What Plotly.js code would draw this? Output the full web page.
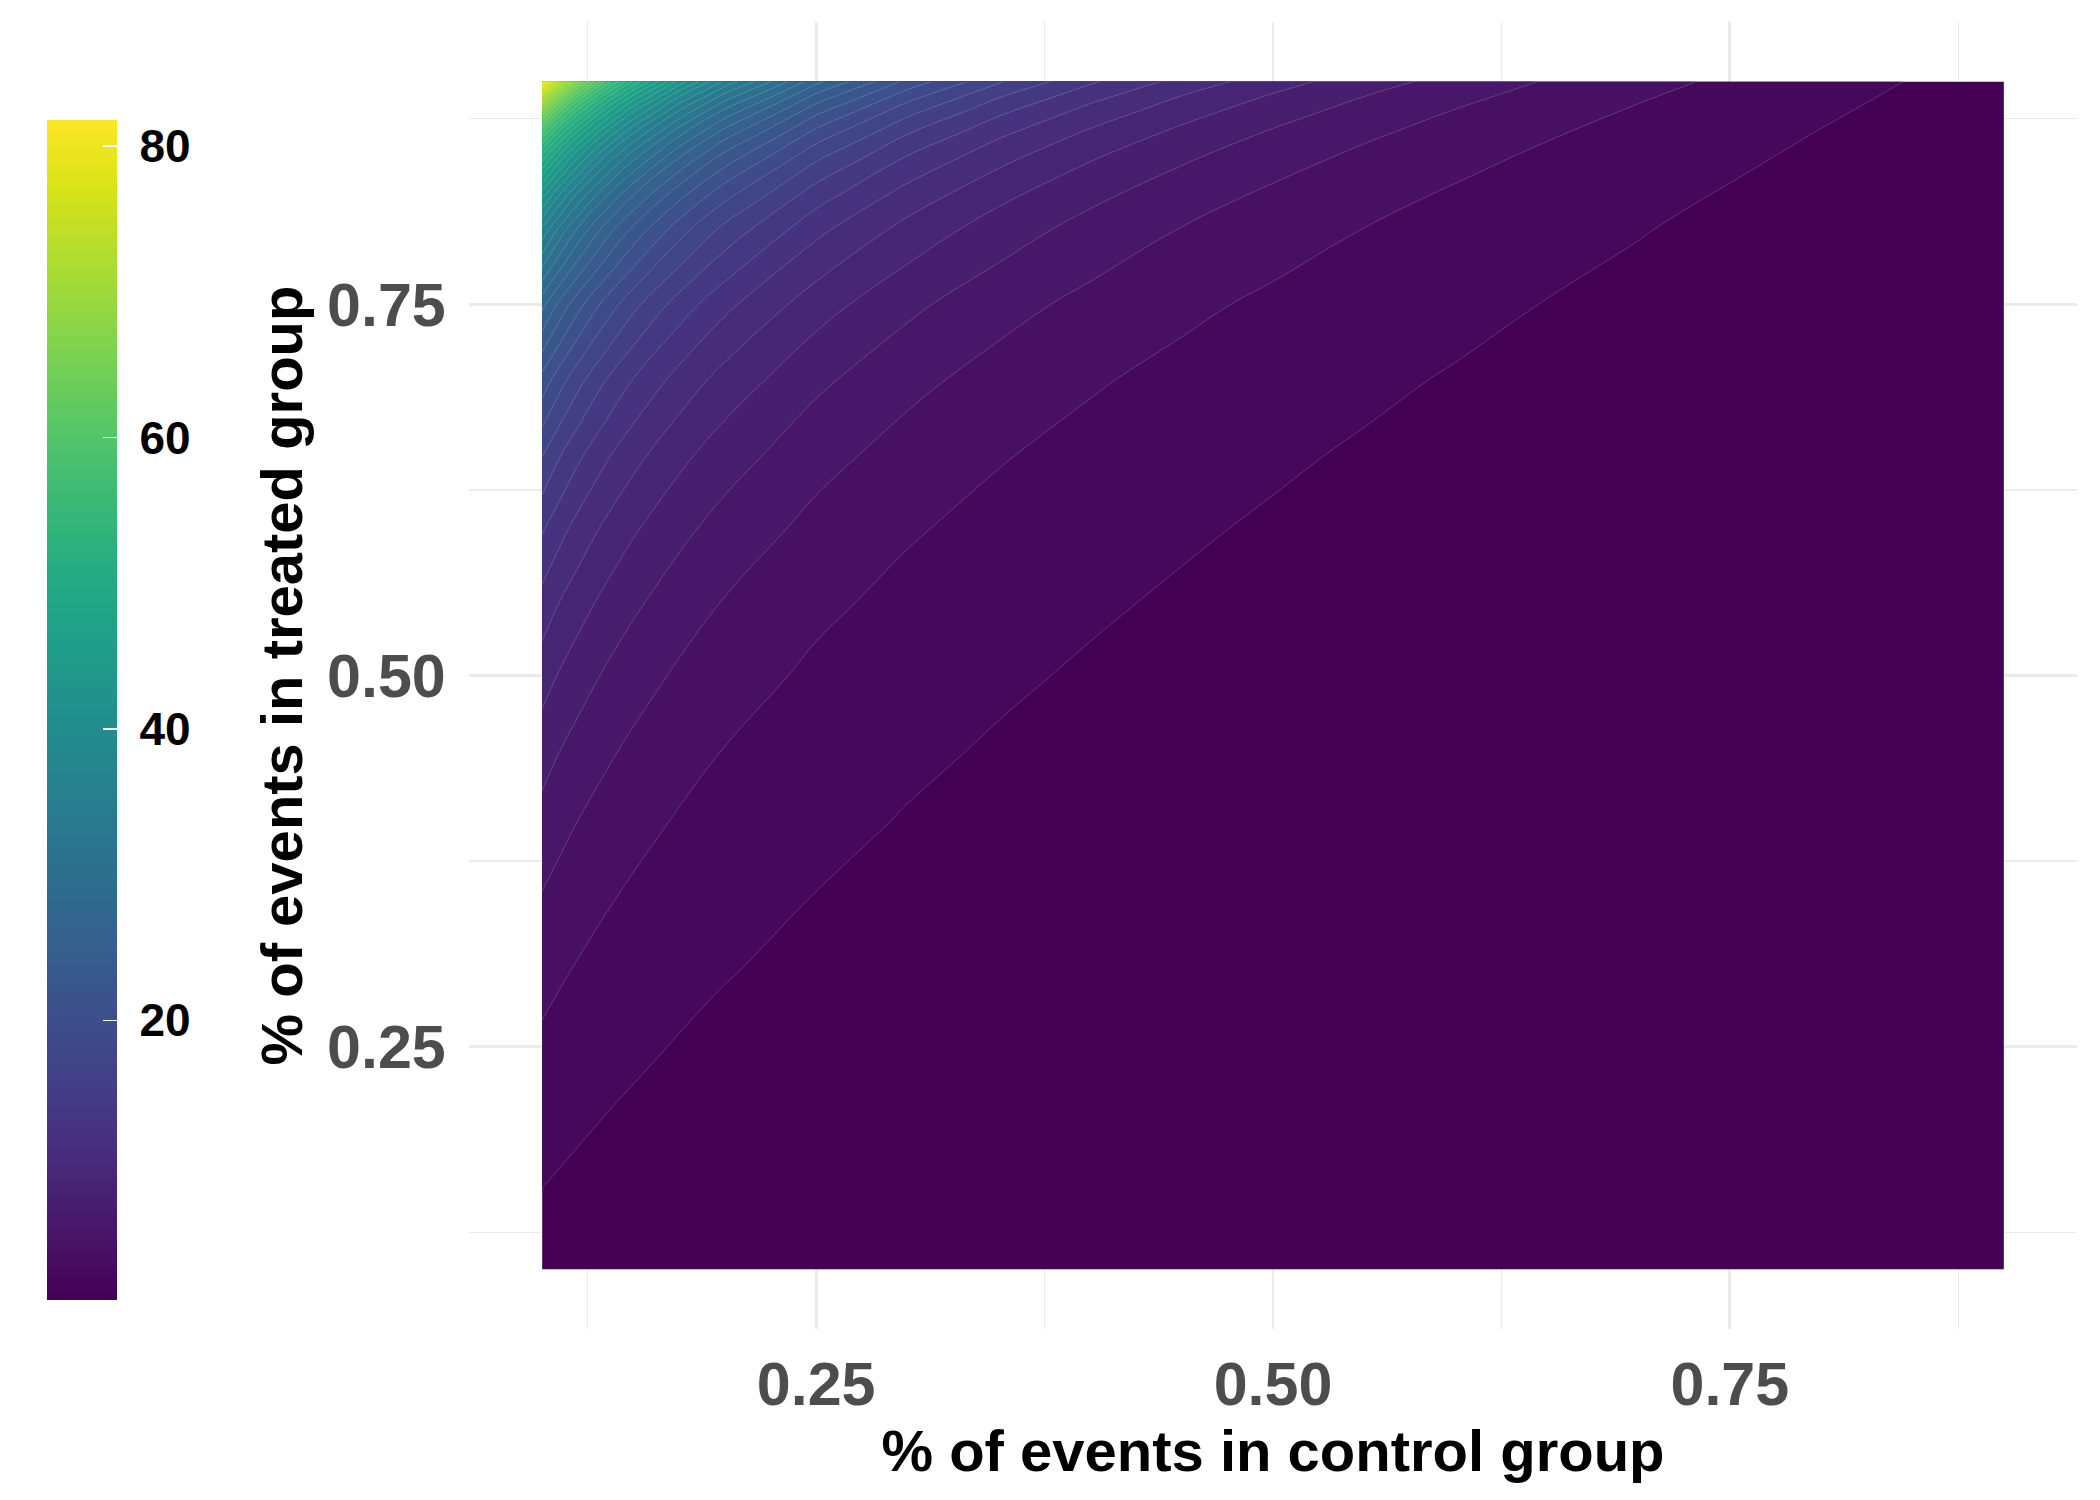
<!DOCTYPE html>
<html>
<head>
<meta charset="utf-8">
<script src="https://cdn.plot.ly/plotly-3.0.1.min.js"></script>
<style>
  html, body { margin: 0; padding: 0; background: #ffffff; }
  #chart { width: 2100px; height: 1500px; }
</style>
</head>
<body>
<div id="chart"></div>
<script>
// доля событий в контрольной группе (ось x)
const controlPct = [0.10, 0.11, 0.12, 0.135, 0.15, 0.175, 0.20, 0.25, 0.30, 0.35, 0.40, 0.45, 0.50, 0.55, 0.60, 0.65, 0.70, 0.75, 0.80, 0.85, 0.90];

// доля событий в группе лечения (ось y)
const treatedPct = [0.10, 0.15, 0.20, 0.25, 0.30, 0.35, 0.40, 0.45, 0.50, 0.55, 0.60, 0.65, 0.70, 0.75, 0.80, 0.825, 0.85, 0.865, 0.88, 0.89, 0.90];

// значения: одна строка на каждое значение treatedPct
const oddsRatio = [
  [1.000, 0.899, 0.815, 0.712, 0.630, 0.524, 0.444, 0.333, 0.259, 0.206, 0.167, 0.136, 0.111, 0.091, 0.074, 0.060, 0.048, 0.037, 0.028, 0.020, 0.012],
  [1.588, 1.428, 1.294, 1.131, 1.000, 0.832, 0.706, 0.529, 0.412, 0.328, 0.265, 0.216, 0.176, 0.144, 0.118, 0.095, 0.076, 0.059, 0.044, 0.031, 0.020],
  [2.250, 2.023, 1.833, 1.602, 1.417, 1.179, 1.000, 0.750, 0.583, 0.464, 0.375, 0.306, 0.250, 0.205, 0.167, 0.135, 0.107, 0.083, 0.063, 0.044, 0.028],
  [3.000, 2.697, 2.444, 2.136, 1.889, 1.571, 1.333, 1.000, 0.778, 0.619, 0.500, 0.407, 0.333, 0.273, 0.222, 0.179, 0.143, 0.111, 0.083, 0.059, 0.037],
  [3.857, 3.468, 3.143, 2.746, 2.429, 2.020, 1.714, 1.286, 1.000, 0.796, 0.643, 0.524, 0.429, 0.351, 0.286, 0.231, 0.184, 0.143, 0.107, 0.076, 0.048],
  [4.846, 4.357, 3.949, 3.450, 3.051, 2.538, 2.154, 1.615, 1.256, 1.000, 0.808, 0.658, 0.538, 0.441, 0.359, 0.290, 0.231, 0.179, 0.135, 0.095, 0.060],
  [6.000, 5.394, 4.889, 4.272, 3.778, 3.143, 2.667, 2.000, 1.556, 1.238, 1.000, 0.815, 0.667, 0.545, 0.444, 0.359, 0.286, 0.222, 0.167, 0.118, 0.074],
  [7.364, 6.620, 6.000, 5.242, 4.636, 3.857, 3.273, 2.455, 1.909, 1.519, 1.227, 1.000, 0.818, 0.669, 0.545, 0.441, 0.351, 0.273, 0.205, 0.144, 0.091],
  [9.000, 8.091, 7.333, 6.407, 5.667, 4.714, 4.000, 3.000, 2.333, 1.857, 1.500, 1.222, 1.000, 0.818, 0.667, 0.538, 0.429, 0.333, 0.250, 0.176, 0.111],
  [11.00, 9.889, 8.963, 7.831, 6.926, 5.762, 4.889, 3.667, 2.852, 2.270, 1.833, 1.494, 1.222, 1.000, 0.815, 0.658, 0.524, 0.407, 0.306, 0.216, 0.136],
  [13.50, 12.14, 11.00, 9.611, 8.500, 7.071, 6.000, 4.500, 3.500, 2.786, 2.250, 1.833, 1.500, 1.227, 1.000, 0.808, 0.643, 0.500, 0.375, 0.265, 0.167],
  [16.71, 15.03, 13.62, 11.90, 10.52, 8.755, 7.429, 5.571, 4.333, 3.449, 2.786, 2.270, 1.857, 1.519, 1.238, 1.000, 0.796, 0.619, 0.464, 0.328, 0.206],
  [21.00, 18.88, 17.11, 14.95, 13.22, 11.00, 9.333, 7.000, 5.444, 4.333, 3.500, 2.852, 2.333, 1.909, 1.556, 1.256, 1.000, 0.778, 0.583, 0.412, 0.259],
  [27.00, 24.27, 22.00, 19.22, 17.00, 14.14, 12.00, 9.000, 7.000, 5.571, 4.500, 3.667, 3.000, 2.455, 2.000, 1.615, 1.286, 1.000, 0.750, 0.529, 0.333],
  [36.00, 32.36, 29.33, 25.63, 22.67, 18.86, 16.00, 12.00, 9.333, 7.429, 6.000, 4.889, 4.000, 3.273, 2.667, 2.154, 1.714, 1.333, 1.000, 0.706, 0.444],
  [42.43, 38.14, 34.57, 30.21, 26.71, 22.22, 18.86, 14.14, 11.00, 8.755, 7.071, 5.762, 4.714, 3.857, 3.143, 2.538, 2.020, 1.571, 1.179, 0.832, 0.524],
  [51.00, 45.85, 41.56, 36.31, 32.11, 26.71, 22.67, 17.00, 13.22, 10.52, 8.500, 6.926, 5.667, 4.636, 3.778, 3.051, 2.429, 1.889, 1.417, 1.000, 0.630],
  [57.67, 51.84, 46.99, 41.06, 36.31, 30.21, 25.63, 19.22, 14.95, 11.90, 9.611, 7.831, 6.407, 5.242, 4.272, 3.450, 2.746, 2.136, 1.602, 1.131, 0.712],
  [66.00, 59.33, 53.78, 46.99, 41.56, 34.57, 29.33, 22.00, 17.11, 13.62, 11.00, 8.963, 7.333, 6.000, 4.889, 3.949, 3.143, 2.444, 1.833, 1.294, 0.815],
  [72.82, 65.46, 59.33, 51.84, 45.85, 38.14, 32.36, 24.27, 18.88, 15.03, 12.14, 9.889, 8.091, 6.620, 5.394, 4.357, 3.468, 2.697, 2.023, 1.428, 0.899],
  [81.00, 72.82, 66.00, 57.67, 51.00, 42.43, 36.00, 27.00, 21.00, 16.71, 13.50, 11.00, 9.000, 7.364, 6.000, 4.846, 3.857, 3.000, 2.250, 1.588, 1.000]
];

const axisTicks = [0.25, 0.50, 0.75];
const axisTickText = ["0.25", "0.50", "0.75"];
const minorTicks = [0.125, 0.375, 0.625, 0.875];
const scaleTicks = [20, 40, 60, 80];
const scaleTickText = ["\u00a020", "\u00a040", "\u00a060", "\u00a080"];

const boldFont = "Liberation Sans, Arial, Helvetica, sans-serif";

// невидимая тепловая карта только ради плавной шкалы цветов
const scaleTrace = {
  type: 'heatmap',
  x: controlPct,
  y: treatedPct,
  z: oddsRatio,
  colorscale: 'Viridis',
  zmin: 0.826,
  zmax: 81.82,
  opacity: 0,
  hoverinfo: 'skip',
  showscale: true,
  colorbar: {
    xref: 'container', yref: 'container',
    x: 47 / 2100, xanchor: 'left',
    y: 0.457, yanchor: 'middle',
    thickness: 70, thicknessmode: 'pixels',
    len: 1180, lenmode: 'pixels',
    xpad: 0, ypad: 0,
    outlinewidth: 0,
    tickmode: 'array',
    tickvals: scaleTicks,
    ticktext: scaleTickText,
    ticks: 'inside', ticklen: 14, tickcolor: '#ffffff', tickwidth: 1.5,
    tickfont: { family: boldFont, size: 46, color: '#000000', weight: 'bold' }
  }
};

const contourTrace = {
  type: 'contour',
  x: controlPct,
  y: treatedPct,
  z: oddsRatio,
  colorscale: 'Viridis',
  autocontour: false,
  contours: { coloring: 'fill', start: 1.653, end: 80.997, size: 1.653, showlines: true },
  line: { color: 'rgba(255,255,255,0.3)', width: 0.6, smoothing: 1.3 },
  hoverinfo: 'skip',
  showscale: false
};

const layout = {
  width: 2100,
  height: 1500,
  margin: { l: 469, r: 23, t: 22, b: 171 },
  paper_bgcolor: '#ffffff',
  plot_bgcolor: '#ffffff',
  showlegend: false,
  xaxis: {
    range: [0.06, 0.94],
    tickmode: 'array',
    tickvals: axisTicks,
    ticktext: axisTickText,
    ticks: 'outside', ticklen: 2, tickcolor: 'rgba(0,0,0,0)',
    showgrid: true, gridcolor: '#ebebeb', gridwidth: 2.7,
    minor: { tickvals: minorTicks, showgrid: true, gridcolor: '#ebebeb', gridwidth: 1.4, ticks: '' },
    zeroline: false, showline: false,
    tickfont: { family: boldFont, size: 61, color: '#4d4d4d', weight: 'bold' },
    title: {
      text: '% of events in control group',
      standoff: 9,
      font: { family: boldFont, size: 58, color: '#000000', weight: 'bold' }
    }
  },
  yaxis: {
    range: [0.06, 0.94],
    tickmode: 'array',
    tickvals: axisTicks,
    ticktext: axisTickText,
    ticks: 'outside', ticklen: 10, tickcolor: 'rgba(0,0,0,0)',
    showgrid: true, gridcolor: '#ebebeb', gridwidth: 2.7,
    minor: { tickvals: minorTicks, showgrid: true, gridcolor: '#ebebeb', gridwidth: 1.4, ticks: '' },
    zeroline: false, showline: false,
    tickfont: { family: boldFont, size: 61, color: '#4d4d4d', weight: 'bold' },
    title: {
      text: '% of events in treated group',
      standoff: 5,
      font: { family: boldFont, size: 58, color: '#000000', weight: 'bold' }
    }
  }
};

Plotly.newPlot('chart', [scaleTrace, contourTrace], layout, { displayModeBar: false, staticPlot: true });
</script>
</body>
</html>
